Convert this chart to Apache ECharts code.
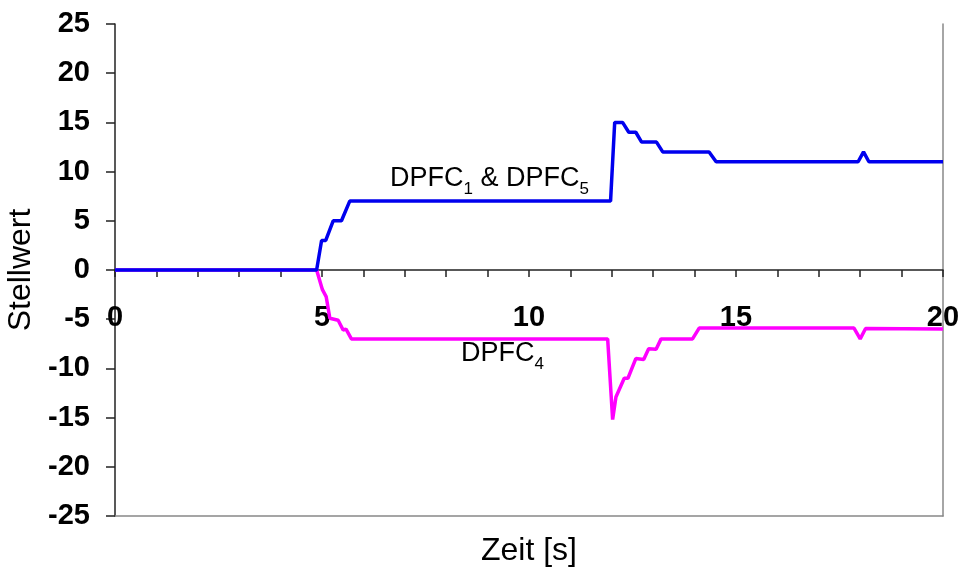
<!DOCTYPE html>
<html>
<head>
<meta charset="utf-8">
<script src="https://cdn.jsdelivr.net/npm/echarts@6/dist/echarts.min.js"></script>
<style>
  html, body { margin: 0; padding: 0; background: #fff; }
  #chart { width: 964px; height: 576px; }
</style>
</head>
<body>
<div id="chart"></div>
<script>
// Stellwert (control value) of the DPFC devices over time
const timeDpfc15 = [0, 4.87, 4.99, 5.09, 5.27, 5.47, 5.67, 11.97, 12.07, 12.26, 12.41, 12.58, 12.72, 13.08, 13.23, 14.35, 14.52, 17.95, 18.08, 18.21, 20];
const valDpfc15  = [0, 0,    3,    3,    5,    5,    7,    7,     15,    15,    14,    14,    13,    13,    12,    12,    11,    11,    12,    11,    11];

const timeDpfc4 = [0, 4.87, 5.01, 5.1, 5.19, 5.39, 5.51, 5.58, 5.71, 11.9, 12.02, 12.1, 12.3, 12.39, 12.58, 12.77, 12.89, 13.07, 13.19, 13.95, 14.11, 17.85, 18.0, 18.13, 20];
const valDpfc4  = [0, 0,    -2,   -2.7, -4.9, -5.1, -6.1, -6.0, -7,   -7,   -15.2, -12.9, -11, -11,  -9,    -9.1,  -8,    -8.05, -7,    -7,    -5.9,  -5.9,  -7,   -5.95, -6];

const yTicks = [-25, -20, -15, -10, -5, 0, 5, 10, 15, 20, 25];
const xLabeled = [0, 5, 10, 15, 20];

const pairs = (t, v) => t.map((x, i) => [x, v[i]]);

const textFont = 'Liberation Sans, Arial, sans-serif';
const tickFont = { fontFamily: textFont, fontWeight: 'bold', fontSize: 29, color: '#000' };
const subRich = {
  m: { fontFamily: textFont, fontSize: 27, fill: '#000', verticalAlign: 'bottom' },
  s: { fontFamily: textFont, fontSize: 17, fill: '#000', verticalAlign: 'bottom', padding: [0, 0, -6, 0] }
};

const chart = echarts.init(document.getElementById('chart'), null, { renderer: 'canvas' });
chart.setOption({
  animation: false,
  backgroundColor: '#fff',
  grid: { left: 115, right: 21, top: 24, bottom: 60, outerBoundsMode: 'none', containLabel: false },
  xAxis: [{
    type: 'value', min: 0, max: 20, interval: 1,
    axisLine: { onZero: true, lineStyle: { color: '#222', width: 1.5 } },
    axisTick: { show: true, length: 7, lineStyle: { color: '#222', width: 1.5 } },
    // labels sit just under the zero line rather than under the plot frame
    axisLabel: Object.assign({}, tickFont, {
      margin: -213,
      formatter: v => xLabeled.includes(v) ? String(v) : ''
    }),
    splitLine: { show: false }
  }, {
    // grey frame line along the bottom of the plot area, carrying the axis title
    type: 'value', min: 0, max: 20, position: 'bottom',
    axisLine: { show: true, onZero: false, lineStyle: { color: '#888', width: 1.5 } },
    axisTick: { show: false }, axisLabel: { show: false }, splitLine: { show: false },
    name: 'Zeit [s]', nameLocation: 'middle', nameGap: 19,
    nameTextStyle: { fontFamily: textFont, fontSize: 32, color: '#000' }
  }],
  yAxis: [{
    type: 'value', min: yTicks[0], max: yTicks[yTicks.length - 1], interval: 5,
    axisLine: { show: true, onZero: false, lineStyle: { color: '#222', width: 1.5 } },
    axisTick: { show: true, length: 9, lineStyle: { color: '#222', width: 1.5 } },
    axisLabel: Object.assign({}, tickFont, { margin: 25 }),
    splitLine: { show: false },
    name: 'Stellwert', nameLocation: 'middle', nameGap: 76,
    nameTextStyle: { fontFamily: textFont, fontSize: 32, color: '#000' }
  }, {
    // grey frame line along the right edge of the plot area
    type: 'value', min: -25, max: 25, position: 'right',
    axisLine: { show: true, onZero: false, lineStyle: { color: '#888', width: 1.5 } },
    axisTick: { show: false }, axisLabel: { show: false }, splitLine: { show: false }
  }],
  series: [{
    name: 'DPFC4', type: 'line', xAxisIndex: 0, yAxisIndex: 0,
    data: pairs(timeDpfc4, valDpfc4), showSymbol: false, symbol: 'none',
    lineStyle: { color: '#FF00FF', width: 3.5 }
  }, {
    name: 'DPFC1 & DPFC5', type: 'line', xAxisIndex: 0, yAxisIndex: 0,
    data: pairs(timeDpfc15, valDpfc15), showSymbol: false, symbol: 'none',
    lineStyle: { color: '#0000EE', width: 3.5 }
  }],
  graphic: [{
    type: 'text', left: 390, top: 165,
    style: { text: '{m|DPFC}{s|1}{m| & DPFC}{s|5}', rich: subRich }
  }, {
    type: 'text', left: 461, top: 340,
    style: { text: '{m|DPFC}{s|4}', rich: subRich }
  }]
});
</script>
</body>
</html>
